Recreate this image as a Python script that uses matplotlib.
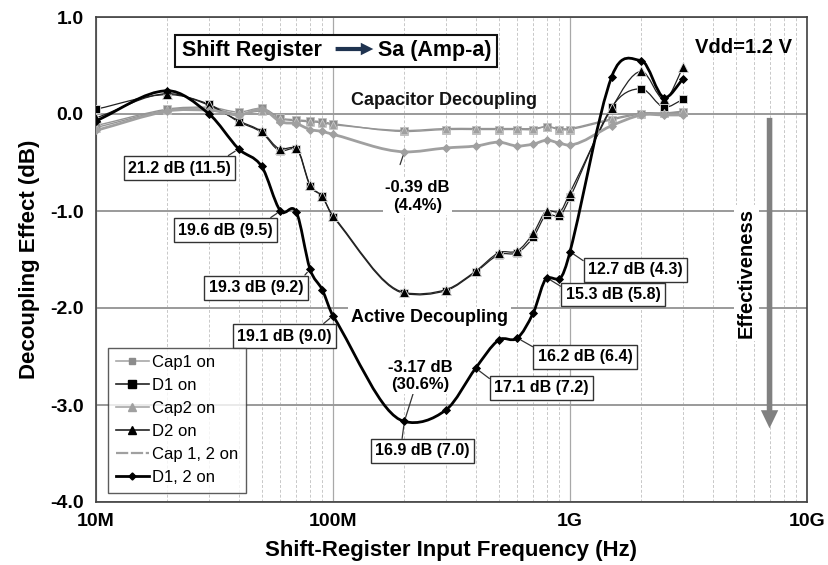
import numpy as np
import matplotlib
matplotlib.use('Agg')
import matplotlib.pyplot as plt
from matplotlib.path import Path
from matplotlib.patches import PathPatch, Rectangle
from matplotlib.lines import Line2D
from matplotlib.ticker import FixedLocator, LogLocator, NullFormatter

plt.rcParams['font.family'] = ['Liberation Sans', 'DejaVu Sans']

# ---------------- data ----------------
freq = [1e7, 2e7, 3e7, 4e7, 5e7, 6e7, 7e7, 8e7, 9e7, 1e8,
        2e8, 3e8, 4e8, 5e8, 6e8, 7e8, 8e8, 9e8, 1e9,
        1.5e9, 2e9, 2.5e9, 3e9]
cap1 = [-0.12, 0.05, 0.07, 0.02, 0.06, -0.04, -0.06, -0.07, -0.08, -0.10,
        -0.18, -0.16, -0.16, -0.16, -0.16, -0.16, -0.13, -0.16, -0.16,
        -0.06, 0.00, 0.01, 0.02]
d1 = [0.05, 0.20, 0.10, -0.08, -0.19, -0.38, -0.36, -0.74, -0.85, -1.06,
      -1.85, -1.82, -1.63, -1.45, -1.43, -1.27, -1.04, -1.05, -0.86,
      0.07, 0.26, 0.07, 0.15]
cap2 = [-0.14, 0.04, 0.06, 0.00, 0.03, -0.05, -0.07, -0.08, -0.09, -0.11,
        -0.17, -0.15, -0.15, -0.15, -0.15, -0.15, -0.13, -0.15, -0.15,
        -0.05, 0.01, 0.01, 0.03]
d2 = [-0.04, 0.21, 0.09, -0.07, -0.18, -0.36, -0.35, -0.73, -0.85, -1.05,
      -1.84, -1.81, -1.62, -1.43, -1.41, -1.23, -1.00, -1.01, -0.81,
      0.06, 0.44, 0.15, 0.48]
cap12 = [-0.17, 0.03, 0.04, -0.01, 0.05, -0.08, -0.10, -0.16, -0.18, -0.21,
         -0.39, -0.35, -0.33, -0.29, -0.33, -0.31, -0.27, -0.30, -0.32,
         -0.12, -0.01, -0.01, -0.01]
d12 = [-0.07, 0.24, 0.00, -0.36, -0.54, -1.00, -1.01, -1.60, -1.81, -2.08,
       -3.17, -3.05, -2.62, -2.33, -2.31, -2.05, -1.69, -1.70, -1.42,
       0.385, 0.55, 0.17, 0.36]

series_labels = ['Cap1 on', 'D1 on', 'Cap2 on', 'D2 on', 'Cap 1, 2 on', 'D1, 2 on']
xtick_vals = [1e7, 1e8, 1e9, 1e10]
xtick_labels = ['10M', '100M', '1G', '10G']
ytick_vals = [1, 0, -1, -2, -3, -4]
ytick_labels = ['1.0', '0.0', '-1.0', '-2.0', '-3.0', '-4.0']


def smooth_path(xs, ys):
    """Smooth (Hermite/Bezier) path through the data points in log-x space."""
    lx = np.log10(np.asarray(xs, float))
    y = np.asarray(ys, float)
    n = len(lx)
    s = np.zeros(n)
    for i in range(n):
        a = max(i - 1, 0)
        b = min(i + 1, n - 1)
        s[i] = (y[b] - y[a]) / (lx[b] - lx[a])
        if 0 < i < n - 1 and (y[i] - y[a]) * (y[b] - y[i]) < 0:
            s[i] *= 0.3  # soften slope at local extrema
    verts = [(lx[0], y[0])]
    codes = [Path.MOVETO]
    for i in range(n - 1):
        h = lx[i + 1] - lx[i]
        verts.append((lx[i] + h / 3, y[i] + s[i] * h / 3))
        verts.append((lx[i + 1] - h / 3, y[i + 1] - s[i + 1] * h / 3))
        verts.append((lx[i + 1], y[i + 1]))
        codes += [Path.CURVE4] * 3
    v = np.array(verts)
    v[:, 0] = 10 ** v[:, 0]
    return Path(v, codes)


fig = plt.figure(figsize=(8.29, 5.65), dpi=100)
ax = fig.add_axes([96 / 829, 1 - 502 / 565, 711 / 829, 485 / 565])
ax.set_xscale('log')
ax.set_xlim(1e7, 1e10)
ax.set_ylim(-4, 1)

# grid
ax.xaxis.set_major_locator(FixedLocator(xtick_vals))
ax.set_xticklabels(xtick_labels)
ax.xaxis.set_minor_locator(LogLocator(base=10, subs=np.arange(2, 10)))
ax.xaxis.set_minor_formatter(NullFormatter())
ax.set_yticks(ytick_vals)
ax.set_yticklabels(ytick_labels)
ax.grid(True, which='minor', axis='x', color='#c8c8c8', ls=(0, (3, 2)), lw=0.7)
ax.grid(True, which='major', axis='x', color='#a8a8a8', ls='-', lw=0.9)
ax.grid(True, which='major', axis='y', color='#9a9a9a', ls='-', lw=1.4)
ax.tick_params(which='both', length=0)
ax.tick_params(axis='y', pad=9, labelsize=14)
ax.tick_params(axis='x', pad=8, labelsize=14)
for lab in ax.get_xticklabels() + ax.get_yticklabels():
    lab.set_fontweight('bold')
for sp in ax.spines.values():
    sp.set_color('#404040')
    sp.set_linewidth(1.2)

ax.set_xlabel('Shift-Register Input Frequency (Hz)', fontsize=16, fontweight='bold', labelpad=7)
ax.set_ylabel('Decoupling Effect (dB)', fontsize=16, fontweight='bold', labelpad=7)

gray = '#959595'
styles = [
    dict(data=cap1, lc=gray, lw=1.0, marker='s', ms=5.5, mfc='#8c8c8c', mec='#c0c0c0'),
    dict(data=d1, lc='#222222', lw=0.9, marker='s', ms=6, mfc='black', mec='#dddddd'),
    dict(data=cap2, lc=gray, lw=1.0, marker='^', ms=6, mfc='#a0a0a0', mec='#c8c8c8'),
    dict(data=d2, lc='#222222', lw=0.9, marker='^', ms=6.5, mfc='black', mec='#dddddd'),
    dict(data=cap12, lc='#a0a0a0', lw=2.0, marker='D', ms=4.5, mfc='#a0a0a0', mec='#a0a0a0'),
    dict(data=d12, lc='black', lw=2.0, marker='D', ms=4.2, mfc='black', mec='black'),
]
handles = []
for i, st in enumerate(styles):
    z = 3 + i * 0.1
    ax.add_patch(PathPatch(smooth_path(freq, st['data']), fill=False,
                           ec=st['lc'], lw=st['lw'], zorder=z))
    ax.plot(freq, st['data'], ls='none', marker=st['marker'], ms=st['ms'],
            mfc=st['mfc'], mec=st['mec'], mew=0.6, zorder=z + 0.05)
    if series_labels[i] == 'Cap 1, 2 on':
        h = Line2D([], [], color=st['lc'], lw=1.6, ls=(0, (5.5, 1.2)))
    else:
        h = Line2D([], [], color=st['lc'] if st['lc'] != gray else '#a8a8a8',
                   lw=1.2 if i != 5 else 2.0, marker=st['marker'],
                   ms=st['ms'] * 0.85, mfc=st['mfc'], mec=st['mfc'])
    handles.append(h)

leg = ax.legend(handles, series_labels, loc='lower left', bbox_to_anchor=(0.017, 0.019),
                borderaxespad=0, fontsize=12, frameon=True, fancybox=False,
                handlelength=2.0, handletextpad=0.2, labelspacing=0.48,
                borderpad=0.45, numpoints=1)
leg.get_frame().set_edgecolor('#333333')
leg.get_frame().set_linewidth(1.0)
leg.set_zorder(10)

# ---------------- annotations ----------------
box = dict(boxstyle='square,pad=0.28', fc='white', ec='#333333', lw=1.0)
arr = dict(arrowstyle='-', color='#333333', lw=0.9, shrinkA=0, shrinkB=3)

def note(txt, idx, data, xt, yt, relpos):
    a = dict(arr)
    a['relpos'] = relpos
    ax.annotate(txt, xy=(freq[idx], data[idx]), xytext=(xt, yt), textcoords='data',
                ha='center', va='center', fontsize=11.5, fontweight='bold',
                bbox=box, arrowprops=a, zorder=8)

note('21.2 dB (11.5)', 3, d12, 2.25e7, -0.557, (0.9, 1.0))
note('19.6 dB (9.5)', 5, d12, 3.52e7, -1.196, (0.9, 1.0))
note('19.3 dB (9.2)', 7, d12, 4.74e7, -1.789, (0.97, 1.0))
note('19.1 dB (9.0)', 9, d12, 6.25e7, -2.289, (0.85, 1.0))
note('16.9 dB (7.0)', 10, d12, 2.38e8, -3.474, (0.28, 1.0))
note('17.1 dB (7.2)', 12, d12, 7.59e8, -2.82, (0.0, 0.85))
note('16.2 dB (6.4)', 14, d12, 1.156e9, -2.505, (0.0, 1.0))
note('15.3 dB (5.8)', 16, d12, 1.517e9, -1.861, (0.0, 0.85))
note('12.7 dB (4.3)', 18, d12, 1.888e9, -1.608, (0.0, 0.9))

ax.annotate('-0.39 dB\n(4.4%)', xy=(freq[10], cap12[10]), xytext=(2.27e8, -0.85),
            textcoords='data', ha='center', va='center', fontsize=12, fontweight='bold',
            bbox=dict(boxstyle='square,pad=0.15', fc='white', ec='none'),
            arrowprops=dict(arrowstyle='-', color='#333333', lw=0.9, relpos=(0.15, 1.0),
                            shrinkA=10, shrinkB=3), zorder=8)
ax.annotate('-3.17 dB\n(30.6%)', xy=(freq[10], d12[10]), xytext=(2.33e8, -2.70),
            textcoords='data', ha='center', va='center', fontsize=12, fontweight='bold',
            bbox=dict(boxstyle='square,pad=0.1', fc='white', ec='none'),
            arrowprops=dict(arrowstyle='-', color='#333333', lw=0.9, relpos=(0.4, 0.0),
                            shrinkA=0, shrinkB=3), zorder=8)

ax.text(2.55e8, -2.103, 'Active Decoupling', ha='center', va='center', fontsize=13,
        fontweight='bold', zorder=7,
        bbox=dict(boxstyle='square,pad=0.15', fc='white', ec='none'))
ax.text(2.94e8, 0.144, 'Capacitor Decoupling', ha='center', va='center', fontsize=13,
        fontweight='bold', color='#141414', zorder=7)
ax.text(5.4e9, 0.69, 'Vdd=1.2 V', ha='center', va='center', fontsize=14.5,
        fontweight='bold', zorder=7)

# Effectiveness arrow
ax.annotate('', xy=(6.95e9, -3.24), xytext=(6.95e9, -0.04), textcoords='data',
            arrowprops=dict(arrowstyle='simple,head_width=1.25,head_length=1.3,tail_width=0.4',
                            fc='#808080', ec='none', mutation_scale=10,
                            shrinkA=0, shrinkB=0), zorder=6)
ax.text(5.56e9, -1.64, 'Effectiveness', rotation=90, ha='center', va='center',
        fontsize=14.5, fontweight='bold', zorder=7,
        bbox=dict(boxstyle='square,pad=0.15', fc='white', ec='none'))

# Shift Register -> Sa box
ax.add_patch(Rectangle((0.1111, 0.897), 0.453, 0.066, transform=ax.transAxes,
                       fc='white', ec='#111111', lw=1.5, zorder=7))
ax.text(0.121, 0.930, 'Shift Register', transform=ax.transAxes, ha='left', va='center',
        fontsize=15.5, fontweight='bold', zorder=8)
ax.annotate('', xy=(0.390, 0.934), xytext=(0.337, 0.934), xycoords='axes fraction',
            textcoords='axes fraction',
            arrowprops=dict(arrowstyle='simple,head_width=0.9,head_length=0.9,tail_width=0.3',
                            fc='#1f3350', ec='none', mutation_scale=10,
                            shrinkA=0, shrinkB=0), zorder=8)
ax.text(0.397, 0.930, 'Sa (Amp-a)', transform=ax.transAxes, ha='left', va='center',
        fontsize=15.5, fontweight='bold', zorder=8)

fig.savefig('out.png', dpi=100)
